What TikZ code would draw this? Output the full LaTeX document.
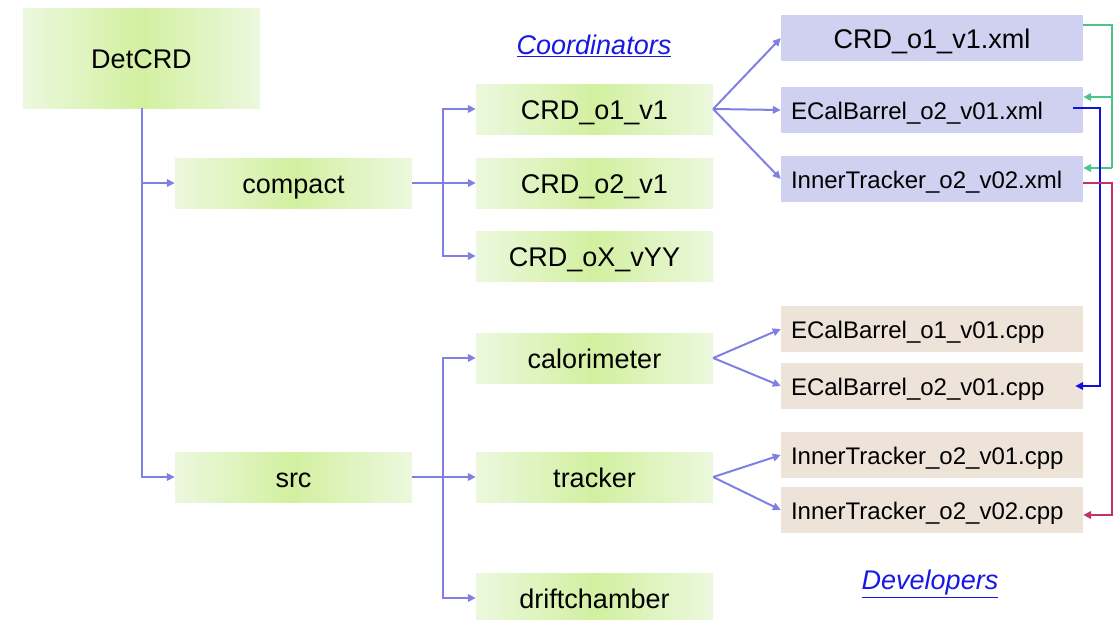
\documentclass[tikz,border=0pt]{standalone}
\usepackage{fontspec}
\setmainfont{Liberation Sans}
\usetikzlibrary{arrows.meta}
\definecolor{gL}{RGB}{236,248,222}
\definecolor{gM}{RGB}{210,240,160}
\definecolor{lav}{RGB}{208,208,240}
\definecolor{beig}{RGB}{237,227,217}
\definecolor{conC}{RGB}{128,128,226}
\definecolor{grnC}{RGB}{76,196,138}
\definecolor{bluC}{RGB}{16,16,224}
\definecolor{magC}{RGB}{196,48,106}
\definecolor{lblC}{RGB}{24,24,230}
\tikzset{
  gbox/.style={rectangle, inner sep=0pt, minimum width=237pt, minimum height=50pt,
    left color=gL, right color=gL, middle color=gM, font=\fontsize{27}{30}\selectfont,
    text height=25pt, text depth=5pt},
  xbox/.style={rectangle, inner sep=0pt, minimum width=302pt, minimum height=46pt,
    fill=lav, font=\fontsize{24}{28}\selectfont, text height=23pt, text depth=5pt},
  cbox/.style={rectangle, inner sep=0pt, minimum width=302pt, minimum height=46pt,
    fill=beig, font=\fontsize{24}{28}\selectfont, text width=282pt, align=left,
    text height=23pt, text depth=5pt},
  conn/.style={draw=conC, line width=2pt, -{Triangle[length=8pt,width=7.5pt]}},
  plain/.style={draw=conC, line width=2pt},
  grn/.style={draw=grnC, line width=2pt},
  blu/.style={draw=bluC, line width=2pt},
  mag/.style={draw=magC, line width=2pt},
  arr/.style={-{Triangle[length=8pt,width=7.5pt]}},
  lbl/.style={text=lblC, font=\fontsize{27}{30}\selectfont\itshape}
}
\begin{document}
\begin{tikzpicture}[x=1pt,y=-1pt]
\useasboundingbox (0,0) rectangle (1120,619);
\clip (0,0) rectangle (1120,619);
% green boxes
\node[gbox, minimum height=100pt] (det) at (141.5,58) {DetCRD};
\node[gbox] (compact) at (293.5,183) {compact};
\node[gbox] (src) at (293.5,477) {src};
\node[gbox] (o1) at (594.5,109) {CRD\_o1\_v1};
\node[gbox] (o2) at (594.5,183) {CRD\_o2\_v1};
\node[gbox] (oX) at (594.5,256) {CRD\_oX\_vYY};
\node[gbox] (cal) at (594.5,358) {calorimeter};
\node[gbox] (trk) at (594.5,477) {tracker};
\node[gbox] (dch) at (594.5,598) {driftchamber};
% xml boxes
\node[xbox, font=\fontsize{27}{30}\selectfont, text height=25pt] (x1) at (932,38) {CRD\_o1\_v1.xml};
\node[xbox, text width=282pt, align=left] (x2) at (932,110) {ECalBarrel\_o2\_v01.xml};
\node[xbox, text width=282pt, align=left] (x3) at (932,179) {InnerTracker\_o2\_v02.xml};
% cpp boxes
\node[cbox] (c1) at (932,329) {ECalBarrel\_o1\_v01.cpp};
\node[cbox] (c2) at (932,386) {ECalBarrel\_o2\_v01.cpp};
\node[cbox] (c3) at (932,455) {InnerTracker\_o2\_v01.cpp};
\node[cbox] (c4) at (932,510) {InnerTracker\_o2\_v02.cpp};
% labels
\node[lbl] (coord) at (594,46) {\underline{Coordinators}};
\node[lbl] (dev) at (930,584) {\underline{Developers}};
% tree connectors
\draw[conn] (det.south) |- (compact.west);
\draw[conn] (det.south) |- (src.west);
\coordinate (j1) at (443,183);
\coordinate (j2) at (443,477);
\draw[plain] (compact.east) -- (j1);
\draw[conn] (j1) |- (o1.west);
\draw[conn] (j1) -- (o2.west);
\draw[conn] (j1) |- (oX.west);
\draw[plain] (src.east) -- (j2);
\draw[conn] (j2) |- (cal.west);
\draw[conn] (j2) -- (trk.west);
\draw[conn] (j2) |- (dch.west);
\draw[conn] (o1.east) -- (x1.west);
\draw[conn] (o1.east) -- (x2.west);
\draw[conn] (o1.east) -- (x3.west);
\draw[conn] (cal.east) -- (c1.west);
\draw[conn] (cal.east) -- (c2.west);
\draw[conn] (trk.east) -- (c3.west);
\draw[conn] (trk.east) -- (c4.west);
% right side connectors
\coordinate (g1) at (1112,97);
\coordinate (g2) at (1112,168);
\draw[grn] ([yshift=13pt]x1.east) -| (g2);
\draw[grn, arr] (g1) -- (x2.east |- g1);
\draw[grn, arr] (g2) -- (x3.east |- g2);
\coordinate (b1) at (1100,386);
\draw[blu, arr] ([xshift=-10pt,yshift=2pt]x2.east) -| (b1) -- ([xshift=-8pt]c2.east);
\coordinate (m1) at (1112,515);
\draw[mag, arr] ([yshift=-4pt]x3.east) -| (m1) -- (c4.east |- m1);
\end{tikzpicture}
\end{document}
